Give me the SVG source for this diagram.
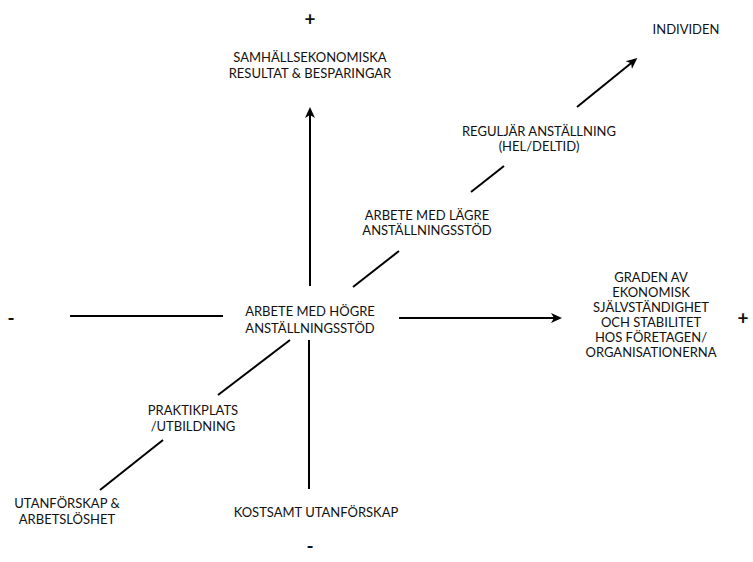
<svg xmlns="http://www.w3.org/2000/svg" width="753" height="562" viewBox="0 0 753 562">
<style>
text{font-family:Lato,"Open Sans","Liberation Sans",sans-serif;font-size:13px;fill:#111;text-anchor:middle}
.ln{stroke:#000;stroke-width:2;fill:none}
.sign{font-size:19px;font-weight:bold}
</style>
<defs>
<marker id="ah" markerUnits="userSpaceOnUse" markerWidth="12" markerHeight="12" refX="8" refY="5" orient="auto" viewBox="0 0 12 10">
<path d="M0,0 L11,5 L0,10 L3,5 z" fill="#000"/>
</marker>
</defs>
<rect width="753" height="562" fill="#fff"/>
<g id="connectors">
<line class="ln" x1="310" y1="286" x2="310" y2="110" marker-end="url(#ah)"/>
<line class="ln" x1="309" y1="340" x2="309" y2="489"/>
<line class="ln" x1="70" y1="316" x2="223" y2="316"/>
<line class="ln" x1="399" y1="318" x2="559" y2="318" marker-end="url(#ah)"/>
<line class="ln" x1="353" y1="287" x2="399" y2="251"/>
<line class="ln" x1="471" y1="192" x2="504" y2="166"/>
<line class="ln" x1="577" y1="107" x2="635" y2="60" marker-end="url(#ah)"/>
<line class="ln" x1="290" y1="340" x2="218" y2="395"/>
<line class="ln" x1="163" y1="440" x2="100" y2="490"/>
</g>
<g id="plus-top"><text class="sign" x="310" y="26">+</text></g>
<g id="samhall"><text x="310" y="62">SAMHÄLLSEKONOMISKA</text><text x="310" y="78">RESULTAT &amp; BESPARINGAR</text></g>
<g id="individen"><text x="686" y="34">INDIVIDEN</text></g>
<g id="regular"><text x="539" y="136">REGULJÄR ANSTÄLLNING</text><text x="539" y="151">(HEL/DELTID)</text></g>
<g id="lagre"><text x="427" y="220">ARBETE MED LÄGRE</text><text x="427" y="235">ANSTÄLLNINGSSTÖD</text></g>
<g id="hogre"><text x="310" y="316">ARBETE MED HÖGRE</text><text x="310" y="333">ANSTÄLLNINGSSTÖD</text></g>
<g id="minus-left"><text class="sign" x="11" y="325">-</text></g>
<g id="graden"><text x="651" y="282">GRADEN AV</text><text x="651" y="297">EKONOMISK</text><text x="651" y="312">SJÄLVSTÄNDIGHET</text><text x="651" y="327">OCH STABILITET</text><text x="651" y="342">HOS FÖRETAGEN/</text><text x="651" y="357">ORGANISATIONERNA</text></g>
<g id="plus-right"><text class="sign" x="743" y="325">+</text></g>
<g id="praktik"><text x="193" y="415">PRAKTIKPLATS</text><text x="193" y="431">/UTBILDNING</text></g>
<g id="utanforskap"><text x="67" y="508">UTANFÖRSKAP &amp;</text><text x="67" y="524">ARBETSLÖSHET</text></g>
<g id="kostsamt"><text x="316" y="517">KOSTSAMT UTANFÖRSKAP</text></g>
<g id="minus-bottom"><text class="sign" x="310" y="553">-</text></g>
</svg>
